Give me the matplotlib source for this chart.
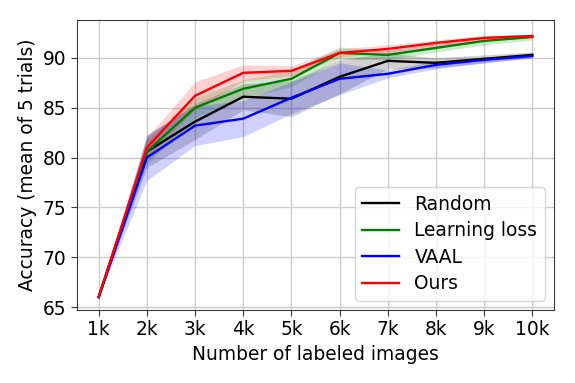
import matplotlib
matplotlib.use("Agg")
import matplotlib.pyplot as plt
import numpy as np

x_labels = ["1k", "2k", "3k", "4k", "5k", "6k", "7k", "8k", "9k", "10k"]
x_vals = [1, 2, 3, 4, 5, 6, 7, 8, 9, 10]

random_mean = [66.0, 80.6, 83.6, 86.1, 85.9, 88.1, 89.7, 89.5, 89.9, 90.3]
random_std = [0.0, 1.6, 1.8, 1.3, 1.8, 1.7, 0.8, 0.5, 0.4, 0.3]

ll_mean = [66.0, 80.6, 85.0, 86.9, 87.9, 90.5, 90.3, 91.0, 91.7, 92.1]
ll_std = [0.0, 1.2, 1.0, 0.9, 0.8, 0.6, 0.5, 0.4, 0.4, 0.3]

vaal_mean = [66.0, 80.0, 83.2, 83.9, 86.0, 87.9, 88.4, 89.3, 89.8, 90.2]
vaal_std = [0.0, 2.3, 2.0, 1.8, 1.6, 1.6, 0.4, 0.4, 0.3, 0.2]

ours_mean = [66.0, 81.0, 86.2, 88.5, 88.7, 90.5, 90.9, 91.5, 92.0, 92.2]
ours_std = [0.0, 1.0, 1.4, 0.8, 0.5, 0.4, 0.4, 0.3, 0.3, 0.2]

series = [
    ("Random", random_mean, random_std, "k"),
    ("Learning loss", ll_mean, ll_std, "g"),
    ("VAAL", vaal_mean, vaal_std, "b"),
    ("Ours", ours_mean, ours_std, "r"),
]

plt.rcParams["font.family"] = ["DejaVu Sans"]
plt.rcParams["font.size"] = 13.4

fig = plt.figure(figsize=(5.75, 3.83), dpi=100)
ax = fig.add_axes([77/575, 1-310/383, (554-77)/575, (310-20)/383])

x = np.array(x_vals)
for name, m, s, c in series:
    m = np.array(m); s = np.array(s)
    ax.plot(x, m, color=c, lw=1.7, label=name)
    ax.fill_between(x, m - s, m + s, color=c, alpha=0.18, lw=0)

ax.set_xticks(x_vals)
ax.set_xticklabels(x_labels)
ax.set_yticks([65, 70, 75, 80, 85, 90])
ax.set_xlim(0.55, 10.45)
ax.set_ylim(64.7, 93.8)
ax.grid(True, color="#cccccc", lw=1)
ax.set_axisbelow(True)
for sp in ax.spines.values():
    sp.set_color("#3a3a3a")
ax.tick_params(colors="#3a3a3a", labelcolor="black", length=4)
ax.set_xlabel("Number of labeled images")
ax.set_ylabel("Accuracy (mean of 5 trials)")
ax.legend(loc="lower right", framealpha=0.8, labelspacing=0.4)

fig.savefig("out.png", dpi=100)
